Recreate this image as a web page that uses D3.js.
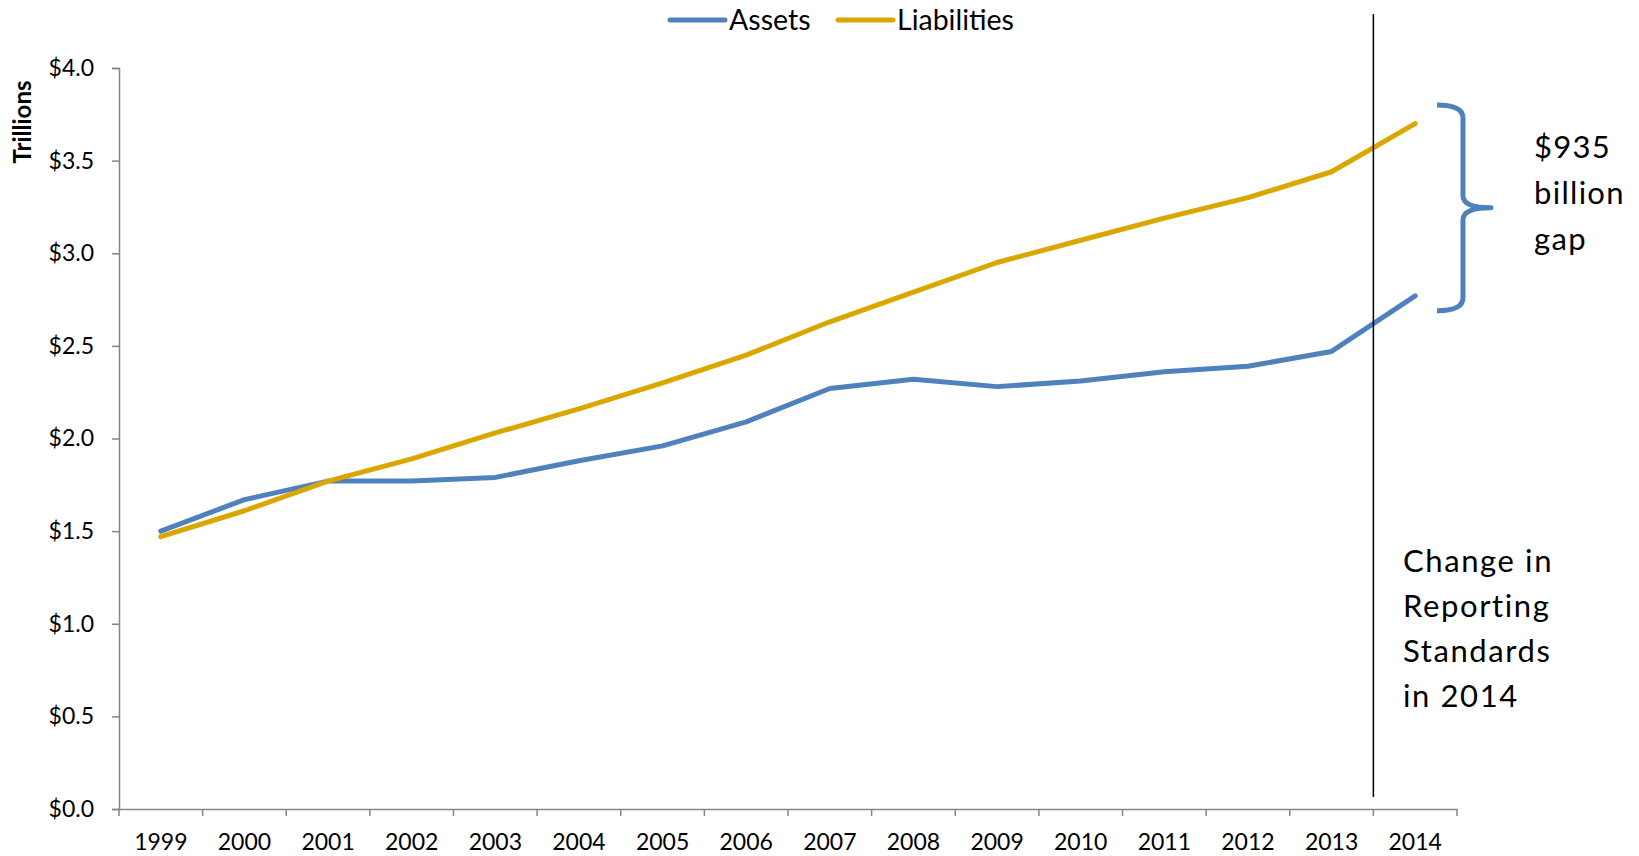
<!DOCTYPE html>
<html><head><meta charset="utf-8">
<script src="https://cdn.jsdelivr.net/npm/d3@7"></script>
<style>body{margin:0;background:#fff;} svg{display:block;}</style>
</head><body>
<svg id="chart" width="1639" height="856"></svg>
<script>
const years = ["1999","2000","2001","2002","2003","2004","2005","2006","2007","2008","2009","2010","2011","2012","2013","2014"];
const assets = [1.50,1.67,1.77,1.77,1.79,1.88,1.96,2.09,2.27,2.32,2.28,2.31,2.36,2.39,2.47,2.77];
const liabilities = [1.47,1.61,1.77,1.89,2.03,2.16,2.30,2.45,2.63,2.79,2.95,3.07,3.19,3.30,3.44,3.70];
const yTicks = [0,0.5,1.0,1.5,2.0,2.5,3.0,3.5,4.0];
const seriesNames = ["Assets","Liabilities"];
const colors = ["#4F81BD","#DAA700"];
const gapLabel = ["$935","billion","gap"];
const noteLabel = ["Change in","Reporting","Standards","in 2014"];

const svg = d3.select("#chart");
const x = d3.scaleBand().domain(years).range([119,1457]).padding(0);
const y = d3.scaleLinear().domain([0,4]).range([809,68]);
const axisColor = "#868686";
const font = "Lato, 'Open Sans', sans-serif";

// Y axis
const gy = svg.append("g").attr("transform","translate(119,0)")
  .call(d3.axisLeft(y).tickValues(yTicks).tickSize(7).tickPadding(18).tickFormat(d=>"$"+d3.format(".1f")(d)));
gy.select(".domain").attr("stroke",axisColor).attr("stroke-width",1.5);
gy.selectAll(".tick line").attr("stroke",axisColor).attr("stroke-width",1.5);
gy.selectAll(".tick text").attr("font-family",font).attr("font-size",23).attr("fill","#000");

// X axis with ticks at band boundaries
const gx = svg.append("g").attr("transform","translate(0,809)")
  .call(d3.axisBottom(x).tickSize(0).tickPadding(25).tickSizeOuter(0));
gx.select(".domain").attr("stroke",axisColor).attr("stroke-width",1.5);
gx.selectAll(".tick text").attr("font-family",font).attr("font-size",23).attr("fill","#000");
const bounds = years.map(d=>x(d)).concat([x(years[years.length-1])+x.bandwidth()]);
gx.selectAll("line.bt").data(bounds).enter().append("line").attr("class","bt")
  .attr("x1",d=>d).attr("x2",d=>d).attr("y1",0).attr("y2",7)
  .attr("stroke",axisColor).attr("stroke-width",1.5);

// Y axis title
svg.append("text").attr("transform","translate(31,122) rotate(-90)")
  .attr("text-anchor","middle").attr("font-family",font)
  .attr("font-weight","bold").attr("font-size",24).text("Trillions");

// Lines
const line = d3.line().x((d,i)=>x(years[i])+x.bandwidth()/2).y(d=>y(d));
[assets,liabilities].forEach((s,i)=>{
  svg.append("path").datum(s).attr("d",line).attr("fill","none")
    .attr("stroke",colors[i]).attr("stroke-width",5).attr("stroke-linejoin","round").attr("stroke-linecap","round");
});

// Vertical divider
svg.append("line").attr("x1",x("2014")).attr("x2",x("2014")).attr("y1",14).attr("y2",797)
  .attr("stroke","#000").attr("stroke-width",1.5);

// Legend
const legX = [670,838];
seriesNames.forEach((n,i)=>{
  svg.append("line").attr("x1",legX[i]).attr("x2",legX[i]+55).attr("y1",20).attr("y2",20)
    .attr("stroke",colors[i]).attr("stroke-width",5).attr("stroke-linecap","round");
  svg.append("text").attr("x",legX[i]+59).attr("y",30).attr("font-family",font)
    .attr("font-size",28.5).text(n);
});

// Brace
const bt = y(3.80), bb = y(2.69), bm = (bt+bb)/2;
const bx0 = 1437, bx1 = 1463, bx2 = 1491;
svg.append("path")
  .attr("d",`M${bx0},${bt} Q${bx1},${bt} ${bx1},${bt+13} L${bx1},${bm-12} Q${bx1},${bm} ${bx2},${bm} Q${bx1},${bm} ${bx1},${bm+12} L${bx1},${bb-13} Q${bx1},${bb} ${bx0},${bb}`)
  .attr("fill","none").attr("stroke","#4F81BD").attr("stroke-width",5).attr("stroke-linejoin","round");

// Gap label
gapLabel.forEach((t,i)=>{
  svg.append("text").attr("x",1534).attr("y",158+i*46).attr("font-family",font)
    .attr("font-size",31).attr("letter-spacing",1.3).text(t);
});
// Note
noteLabel.forEach((t,i)=>{
  svg.append("text").attr("x",1403).attr("y",572+i*45).attr("font-family",font)
    .attr("font-size",31).attr("letter-spacing",1.6).text(t);
});
</script>
</body></html>
